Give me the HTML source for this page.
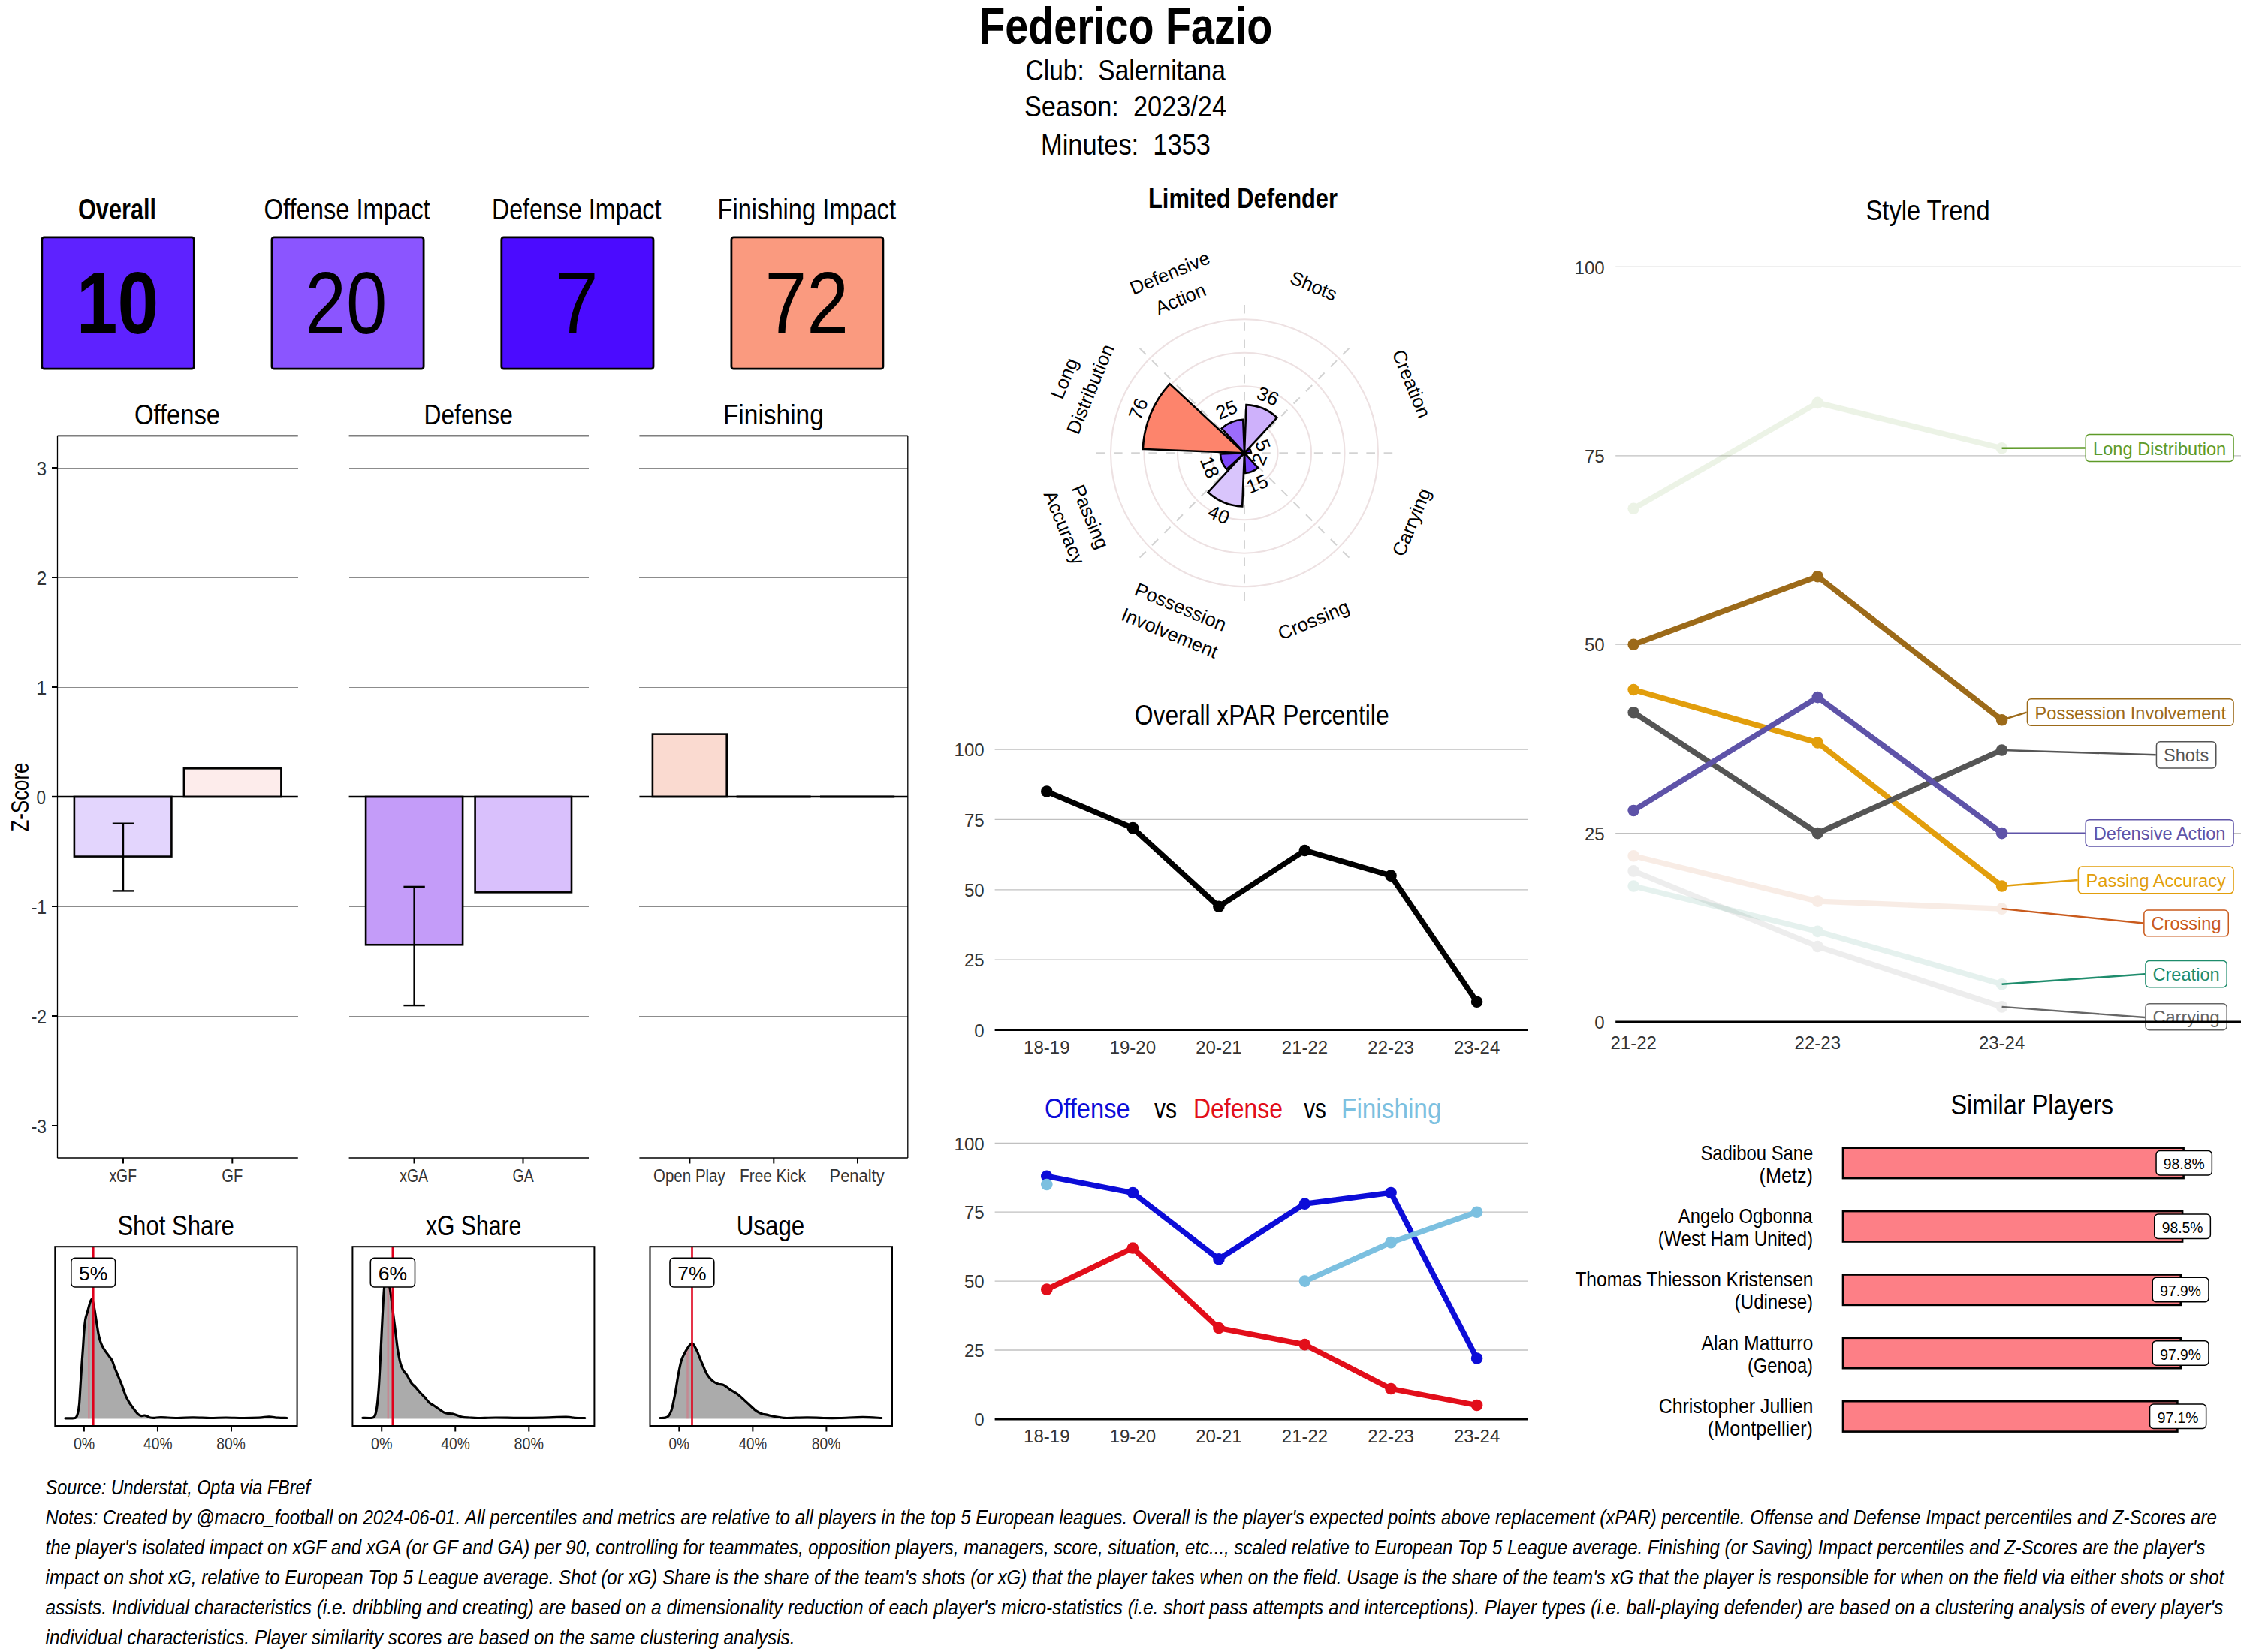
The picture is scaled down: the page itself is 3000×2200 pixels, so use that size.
<!DOCTYPE html>
<html><head><meta charset="utf-8"><title>Federico Fazio</title>
<style>
html,body{margin:0;padding:0;background:#fff;}
svg{display:block;}
text{font-family:"Liberation Sans",sans-serif;white-space:pre;}
</style></head><body>
<svg width="3000" height="2200" viewBox="0 0 3000 2200">
<rect x="0" y="0" width="3000" height="2200" fill="#fff"/>
<text x="1304.34" y="58.20" font-size="68.90" textLength="389.92" lengthAdjust="spacingAndGlyphs" fill="#000" style="font-weight:bold;" >Federico Fazio</text>
<text x="1365.59" y="107.20" font-size="39.24" textLength="266.18" lengthAdjust="spacingAndGlyphs" fill="#000" style="" >Club:  Salernitana</text>
<text x="1363.99" y="154.50" font-size="39.24" textLength="269.01" lengthAdjust="spacingAndGlyphs" fill="#000" style="" >Season:  2023/24</text>
<text x="1385.97" y="206.00" font-size="39.24" textLength="226.03" lengthAdjust="spacingAndGlyphs" fill="#000" style="" >Minutes:  1353</text>
<text x="103.97" y="291.60" font-size="38.52" textLength="104.07" lengthAdjust="spacingAndGlyphs" fill="#000" style="font-weight:bold;" >Overall</text>
<text x="351.59" y="291.80" font-size="38.52" textLength="221.00" lengthAdjust="spacingAndGlyphs" fill="#000" style="" >Offense Impact</text>
<text x="654.98" y="291.80" font-size="38.52" textLength="225.43" lengthAdjust="spacingAndGlyphs" fill="#000" style="" >Defense Impact</text>
<text x="955.58" y="291.80" font-size="38.52" textLength="237.41" lengthAdjust="spacingAndGlyphs" fill="#000" style="" >Finishing Impact</text>
<rect x="55.80" y="315.90" width="202.50" height="175.30" rx="3.00" fill="#5E22FF" stroke="#000" stroke-width="2.80" />
<text x="101.65" y="443.60" font-size="116.28" textLength="109.48" lengthAdjust="spacingAndGlyphs" fill="#000" style="font-weight:bold;" >10</text>
<rect x="362.00" y="315.90" width="202.10" height="175.30" rx="3.00" fill="#8B55FF" stroke="#000" stroke-width="2.80" />
<text x="406.62" y="443.60" font-size="116.28" textLength="108.73" lengthAdjust="spacingAndGlyphs" fill="#000" style="" >20</text>
<rect x="667.80" y="315.90" width="202.20" height="175.30" rx="3.00" fill="#4B0BFF" stroke="#000" stroke-width="2.80" />
<text x="739.83" y="443.60" font-size="116.28" textLength="56.92" lengthAdjust="spacingAndGlyphs" fill="#000" style="" >7</text>
<rect x="973.90" y="315.90" width="202.00" height="175.30" rx="3.00" fill="#FA9A7F" stroke="#000" stroke-width="2.80" />
<text x="1018.50" y="443.60" font-size="116.28" textLength="111.57" lengthAdjust="spacingAndGlyphs" fill="#000" style="" >72</text>
<line x1="76.50" y1="623.00" x2="396.80" y2="623.00" stroke="#8C8C8C" stroke-width="1.00" shape-rendering="crispEdges"/>
<line x1="76.50" y1="769.00" x2="396.80" y2="769.00" stroke="#8C8C8C" stroke-width="1.00" shape-rendering="crispEdges"/>
<line x1="76.50" y1="915.00" x2="396.80" y2="915.00" stroke="#8C8C8C" stroke-width="1.00" shape-rendering="crispEdges"/>
<line x1="76.50" y1="1207.00" x2="396.80" y2="1207.00" stroke="#8C8C8C" stroke-width="1.00" shape-rendering="crispEdges"/>
<line x1="76.50" y1="1353.00" x2="396.80" y2="1353.00" stroke="#8C8C8C" stroke-width="1.00" shape-rendering="crispEdges"/>
<line x1="76.50" y1="1499.00" x2="396.80" y2="1499.00" stroke="#8C8C8C" stroke-width="1.00" shape-rendering="crispEdges"/>
<line x1="76.50" y1="580.40" x2="396.80" y2="580.40" stroke="#000" stroke-width="1.60" />
<line x1="76.50" y1="1542.00" x2="396.80" y2="1542.00" stroke="#000" stroke-width="1.60" />
<line x1="464.60" y1="623.00" x2="784.00" y2="623.00" stroke="#8C8C8C" stroke-width="1.00" shape-rendering="crispEdges"/>
<line x1="464.60" y1="769.00" x2="784.00" y2="769.00" stroke="#8C8C8C" stroke-width="1.00" shape-rendering="crispEdges"/>
<line x1="464.60" y1="915.00" x2="784.00" y2="915.00" stroke="#8C8C8C" stroke-width="1.00" shape-rendering="crispEdges"/>
<line x1="464.60" y1="1207.00" x2="784.00" y2="1207.00" stroke="#8C8C8C" stroke-width="1.00" shape-rendering="crispEdges"/>
<line x1="464.60" y1="1353.00" x2="784.00" y2="1353.00" stroke="#8C8C8C" stroke-width="1.00" shape-rendering="crispEdges"/>
<line x1="464.60" y1="1499.00" x2="784.00" y2="1499.00" stroke="#8C8C8C" stroke-width="1.00" shape-rendering="crispEdges"/>
<line x1="464.60" y1="580.40" x2="784.00" y2="580.40" stroke="#000" stroke-width="1.60" />
<line x1="464.60" y1="1542.00" x2="784.00" y2="1542.00" stroke="#000" stroke-width="1.60" />
<line x1="851.40" y1="623.00" x2="1208.80" y2="623.00" stroke="#8C8C8C" stroke-width="1.00" shape-rendering="crispEdges"/>
<line x1="851.40" y1="769.00" x2="1208.80" y2="769.00" stroke="#8C8C8C" stroke-width="1.00" shape-rendering="crispEdges"/>
<line x1="851.40" y1="915.00" x2="1208.80" y2="915.00" stroke="#8C8C8C" stroke-width="1.00" shape-rendering="crispEdges"/>
<line x1="851.40" y1="1207.00" x2="1208.80" y2="1207.00" stroke="#8C8C8C" stroke-width="1.00" shape-rendering="crispEdges"/>
<line x1="851.40" y1="1353.00" x2="1208.80" y2="1353.00" stroke="#8C8C8C" stroke-width="1.00" shape-rendering="crispEdges"/>
<line x1="851.40" y1="1499.00" x2="1208.80" y2="1499.00" stroke="#8C8C8C" stroke-width="1.00" shape-rendering="crispEdges"/>
<line x1="851.40" y1="580.40" x2="1208.80" y2="580.40" stroke="#000" stroke-width="1.60" />
<line x1="851.40" y1="1542.00" x2="1208.80" y2="1542.00" stroke="#000" stroke-width="1.60" />
<line x1="76.50" y1="580.40" x2="76.50" y2="1542.00" stroke="#000" stroke-width="1.30" />
<line x1="1208.80" y1="580.40" x2="1208.80" y2="1542.00" stroke="#000" stroke-width="1.30" />
<line x1="69.00" y1="623.00" x2="76.50" y2="623.00" stroke="#000" stroke-width="2.00" />
<text x="48.47" y="633.00" font-size="24.85" textLength="13.65" lengthAdjust="spacingAndGlyphs" fill="#333333" style="" >3</text>
<line x1="69.00" y1="769.00" x2="76.50" y2="769.00" stroke="#000" stroke-width="2.00" />
<text x="48.43" y="779.00" font-size="24.85" textLength="13.76" lengthAdjust="spacingAndGlyphs" fill="#333333" style="" >2</text>
<line x1="69.00" y1="915.00" x2="76.50" y2="915.00" stroke="#000" stroke-width="2.00" />
<text x="48.20" y="925.00" font-size="24.85" textLength="14.01" lengthAdjust="spacingAndGlyphs" fill="#333333" style="" >1</text>
<line x1="69.00" y1="1061.00" x2="76.50" y2="1061.00" stroke="#000" stroke-width="2.00" />
<text x="48.55" y="1071.00" font-size="24.85" textLength="12.51" lengthAdjust="spacingAndGlyphs" fill="#333333" style="" >0</text>
<line x1="69.00" y1="1207.00" x2="76.50" y2="1207.00" stroke="#000" stroke-width="2.00" />
<text x="41.69" y="1217.00" font-size="24.85" textLength="20.42" lengthAdjust="spacingAndGlyphs" fill="#333333" style="" >-1</text>
<line x1="69.00" y1="1353.00" x2="76.50" y2="1353.00" stroke="#000" stroke-width="2.00" />
<text x="41.69" y="1363.00" font-size="24.85" textLength="20.42" lengthAdjust="spacingAndGlyphs" fill="#333333" style="" >-2</text>
<line x1="69.00" y1="1499.00" x2="76.50" y2="1499.00" stroke="#000" stroke-width="2.00" />
<text x="41.71" y="1509.00" font-size="24.85" textLength="20.35" lengthAdjust="spacingAndGlyphs" fill="#333333" style="" >-3</text>
<rect x="98.90" y="1061.00" width="129.50" height="79.58" rx="0.00" fill="#E3D5FD" stroke="#000" stroke-width="2.60" />
<rect x="244.90" y="1023.32" width="129.50" height="37.68" rx="0.00" fill="#FDECEB" stroke="#000" stroke-width="2.60" />
<rect x="487.10" y="1061.00" width="129.00" height="197.26" rx="0.00" fill="#C49CF9" stroke="#000" stroke-width="2.60" />
<rect x="632.60" y="1061.00" width="128.40" height="127.33" rx="0.00" fill="#D9C0FC" stroke="#000" stroke-width="2.60" />
<rect x="868.90" y="977.62" width="98.80" height="83.38" rx="0.00" fill="#FADAD0" stroke="#000" stroke-width="2.60" />
<line x1="76.50" y1="1061.00" x2="396.80" y2="1061.00" stroke="#000" stroke-width="2.40" />
<line x1="464.60" y1="1061.00" x2="784.00" y2="1061.00" stroke="#000" stroke-width="2.40" />
<line x1="851.40" y1="1061.00" x2="1208.80" y2="1061.00" stroke="#000" stroke-width="2.40" />
<line x1="69.00" y1="1061.00" x2="76.50" y2="1061.00" stroke="#000" stroke-width="2.40" />
<line x1="980.60" y1="1061.00" x2="1079.60" y2="1061.00" stroke="#000" stroke-width="3.20" />
<line x1="1092.00" y1="1061.00" x2="1191.20" y2="1061.00" stroke="#000" stroke-width="3.20" />
<line x1="164.00" y1="1096.70" x2="164.00" y2="1186.40" stroke="#000" stroke-width="2.40" />
<line x1="149.80" y1="1096.70" x2="178.20" y2="1096.70" stroke="#000" stroke-width="2.40" />
<line x1="149.80" y1="1186.40" x2="178.20" y2="1186.40" stroke="#000" stroke-width="2.40" />
<line x1="551.60" y1="1180.90" x2="551.60" y2="1339.10" stroke="#000" stroke-width="2.40" />
<line x1="537.40" y1="1180.90" x2="565.80" y2="1180.90" stroke="#000" stroke-width="2.40" />
<line x1="537.40" y1="1339.10" x2="565.80" y2="1339.10" stroke="#000" stroke-width="2.40" />
<line x1="164.00" y1="1542.00" x2="164.00" y2="1549.50" stroke="#000" stroke-width="2.00" />
<text x="145.40" y="1574.20" font-size="23.26" textLength="36.60" lengthAdjust="spacingAndGlyphs" fill="#333333" style="" >xGF</text>
<line x1="309.30" y1="1542.00" x2="309.30" y2="1549.50" stroke="#000" stroke-width="2.00" />
<text x="295.19" y="1574.20" font-size="23.26" textLength="28.03" lengthAdjust="spacingAndGlyphs" fill="#333333" style="" >GF</text>
<line x1="551.50" y1="1542.00" x2="551.50" y2="1549.50" stroke="#000" stroke-width="2.00" />
<text x="532.20" y="1574.20" font-size="23.26" textLength="37.81" lengthAdjust="spacingAndGlyphs" fill="#333333" style="" >xGA</text>
<line x1="696.50" y1="1542.00" x2="696.50" y2="1549.50" stroke="#000" stroke-width="2.00" />
<text x="682.57" y="1574.20" font-size="23.26" textLength="28.04" lengthAdjust="spacingAndGlyphs" fill="#333333" style="" >GA</text>
<line x1="918.40" y1="1542.00" x2="918.40" y2="1549.50" stroke="#000" stroke-width="2.00" />
<text x="869.99" y="1574.20" font-size="23.26" textLength="95.82" lengthAdjust="spacingAndGlyphs" fill="#333333" style="" >Open Play</text>
<line x1="1030.30" y1="1542.00" x2="1030.30" y2="1549.50" stroke="#000" stroke-width="2.00" />
<text x="984.99" y="1574.20" font-size="23.26" textLength="87.98" lengthAdjust="spacingAndGlyphs" fill="#333333" style="" >Free Kick</text>
<line x1="1142.00" y1="1542.00" x2="1142.00" y2="1549.50" stroke="#000" stroke-width="2.00" />
<text x="1104.55" y="1574.20" font-size="23.26" textLength="73.05" lengthAdjust="spacingAndGlyphs" fill="#333333" style="" >Penalty</text>
<text x="178.99" y="564.60" font-size="36.77" textLength="114.04" lengthAdjust="spacingAndGlyphs" fill="#000" style="" >Offense</text>
<text x="564.54" y="564.60" font-size="36.77" textLength="118.28" lengthAdjust="spacingAndGlyphs" fill="#000" style="" >Defense</text>
<text x="962.90" y="564.60" font-size="36.77" textLength="133.96" lengthAdjust="spacingAndGlyphs" fill="#000" style="" >Finishing</text>
<g transform="translate(37.5,1061.5) rotate(-90)">
<text x="-46.00" y="0.00" font-size="32.70" textLength="92.00" lengthAdjust="spacingAndGlyphs" fill="#000" style="" >Z-Score</text>
</g>
<text x="156.38" y="1644.50" font-size="36.34" textLength="155.45" lengthAdjust="spacingAndGlyphs" fill="#000" style="" >Shot Share</text>
<clipPath id="clip5"><path d="M87.00,1888.80 C88.63,1888.80 94.45,1888.97 96.80,1888.80 C99.15,1888.63 99.98,1888.88 101.10,1887.80 C102.22,1886.72 102.77,1885.22 103.50,1882.30 C104.23,1879.38 104.90,1876.47 105.50,1870.30 C106.10,1864.13 106.55,1854.02 107.10,1845.30 C107.65,1836.58 108.25,1826.17 108.80,1818.00 C109.35,1809.83 109.87,1803.92 110.40,1796.30 C110.93,1788.68 111.45,1778.85 112.00,1772.30 C112.55,1765.75 112.97,1761.18 113.70,1757.00 C114.43,1752.82 115.40,1750.82 116.40,1747.20 C117.40,1743.58 118.85,1738.00 119.70,1735.30 C120.55,1732.60 120.97,1731.68 121.50,1731.00 C122.03,1730.32 122.30,1729.77 122.90,1731.20 C123.50,1732.63 124.37,1736.02 125.10,1739.60 C125.83,1743.18 126.57,1748.17 127.30,1752.70 C128.03,1757.23 128.78,1762.45 129.50,1766.80 C130.22,1771.15 130.78,1775.17 131.60,1778.80 C132.42,1782.43 133.30,1785.68 134.40,1788.60 C135.50,1791.52 136.67,1793.75 138.20,1796.30 C139.73,1798.85 141.78,1801.37 143.60,1803.90 C145.42,1806.43 147.65,1808.78 149.10,1811.50 C150.55,1814.22 151.03,1816.93 152.30,1820.20 C153.57,1823.47 155.07,1827.10 156.70,1831.10 C158.33,1835.10 160.28,1839.48 162.10,1844.20 C163.92,1848.92 165.78,1855.23 167.60,1859.40 C169.42,1863.57 171.18,1866.28 173.00,1869.20 C174.82,1872.12 176.68,1874.53 178.50,1876.90 C180.32,1879.27 182.27,1881.95 183.90,1883.40 C185.53,1884.85 186.85,1885.33 188.30,1885.60 C189.75,1885.87 191.33,1884.92 192.60,1885.00 C193.87,1885.08 194.62,1885.60 195.90,1886.10 C197.18,1886.60 198.67,1887.63 200.30,1888.00 C201.93,1888.37 203.37,1888.37 205.70,1888.30 C208.03,1888.23 209.23,1887.57 214.30,1887.60 C219.37,1887.63 228.83,1888.45 236.10,1888.50 C243.37,1888.55 250.65,1887.90 257.90,1887.90 C265.15,1887.90 272.42,1888.48 279.60,1888.50 C286.78,1888.52 293.77,1888.00 301.00,1888.00 C308.23,1888.00 315.67,1888.48 323.00,1888.50 C330.33,1888.52 339.15,1888.37 345.00,1888.10 C350.85,1887.83 353.93,1886.88 358.10,1886.90 C362.27,1886.92 366.02,1887.93 370.00,1888.20 C373.98,1888.47 380.00,1888.45 382.00,1888.50 L382.00,1889.60 L87.00,1889.60 Z"/></clipPath>
<path d="M87.00,1888.80 C88.63,1888.80 94.45,1888.97 96.80,1888.80 C99.15,1888.63 99.98,1888.88 101.10,1887.80 C102.22,1886.72 102.77,1885.22 103.50,1882.30 C104.23,1879.38 104.90,1876.47 105.50,1870.30 C106.10,1864.13 106.55,1854.02 107.10,1845.30 C107.65,1836.58 108.25,1826.17 108.80,1818.00 C109.35,1809.83 109.87,1803.92 110.40,1796.30 C110.93,1788.68 111.45,1778.85 112.00,1772.30 C112.55,1765.75 112.97,1761.18 113.70,1757.00 C114.43,1752.82 115.40,1750.82 116.40,1747.20 C117.40,1743.58 118.85,1738.00 119.70,1735.30 C120.55,1732.60 120.97,1731.68 121.50,1731.00 C122.03,1730.32 122.30,1729.77 122.90,1731.20 C123.50,1732.63 124.37,1736.02 125.10,1739.60 C125.83,1743.18 126.57,1748.17 127.30,1752.70 C128.03,1757.23 128.78,1762.45 129.50,1766.80 C130.22,1771.15 130.78,1775.17 131.60,1778.80 C132.42,1782.43 133.30,1785.68 134.40,1788.60 C135.50,1791.52 136.67,1793.75 138.20,1796.30 C139.73,1798.85 141.78,1801.37 143.60,1803.90 C145.42,1806.43 147.65,1808.78 149.10,1811.50 C150.55,1814.22 151.03,1816.93 152.30,1820.20 C153.57,1823.47 155.07,1827.10 156.70,1831.10 C158.33,1835.10 160.28,1839.48 162.10,1844.20 C163.92,1848.92 165.78,1855.23 167.60,1859.40 C169.42,1863.57 171.18,1866.28 173.00,1869.20 C174.82,1872.12 176.68,1874.53 178.50,1876.90 C180.32,1879.27 182.27,1881.95 183.90,1883.40 C185.53,1884.85 186.85,1885.33 188.30,1885.60 C189.75,1885.87 191.33,1884.92 192.60,1885.00 C193.87,1885.08 194.62,1885.60 195.90,1886.10 C197.18,1886.60 198.67,1887.63 200.30,1888.00 C201.93,1888.37 203.37,1888.37 205.70,1888.30 C208.03,1888.23 209.23,1887.57 214.30,1887.60 C219.37,1887.63 228.83,1888.45 236.10,1888.50 C243.37,1888.55 250.65,1887.90 257.90,1887.90 C265.15,1887.90 272.42,1888.48 279.60,1888.50 C286.78,1888.52 293.77,1888.00 301.00,1888.00 C308.23,1888.00 315.67,1888.48 323.00,1888.50 C330.33,1888.52 339.15,1888.37 345.00,1888.10 C350.85,1887.83 353.93,1886.88 358.10,1886.90 C362.27,1886.92 366.02,1887.93 370.00,1888.20 C373.98,1888.47 380.00,1888.45 382.00,1888.50 L382.00,1889.60 L87.00,1889.60 Z" fill="#ABABAB" stroke="none"/>
<line x1="118.30" y1="1661.00" x2="118.30" y2="1898.00" stroke="rgba(255,60,90,0.30)" stroke-width="2.50" clip-path="url(#clip5)"/>
<path d="M87.00,1888.80 C88.63,1888.80 94.45,1888.97 96.80,1888.80 C99.15,1888.63 99.98,1888.88 101.10,1887.80 C102.22,1886.72 102.77,1885.22 103.50,1882.30 C104.23,1879.38 104.90,1876.47 105.50,1870.30 C106.10,1864.13 106.55,1854.02 107.10,1845.30 C107.65,1836.58 108.25,1826.17 108.80,1818.00 C109.35,1809.83 109.87,1803.92 110.40,1796.30 C110.93,1788.68 111.45,1778.85 112.00,1772.30 C112.55,1765.75 112.97,1761.18 113.70,1757.00 C114.43,1752.82 115.40,1750.82 116.40,1747.20 C117.40,1743.58 118.85,1738.00 119.70,1735.30 C120.55,1732.60 120.97,1731.68 121.50,1731.00 C122.03,1730.32 122.30,1729.77 122.90,1731.20 C123.50,1732.63 124.37,1736.02 125.10,1739.60 C125.83,1743.18 126.57,1748.17 127.30,1752.70 C128.03,1757.23 128.78,1762.45 129.50,1766.80 C130.22,1771.15 130.78,1775.17 131.60,1778.80 C132.42,1782.43 133.30,1785.68 134.40,1788.60 C135.50,1791.52 136.67,1793.75 138.20,1796.30 C139.73,1798.85 141.78,1801.37 143.60,1803.90 C145.42,1806.43 147.65,1808.78 149.10,1811.50 C150.55,1814.22 151.03,1816.93 152.30,1820.20 C153.57,1823.47 155.07,1827.10 156.70,1831.10 C158.33,1835.10 160.28,1839.48 162.10,1844.20 C163.92,1848.92 165.78,1855.23 167.60,1859.40 C169.42,1863.57 171.18,1866.28 173.00,1869.20 C174.82,1872.12 176.68,1874.53 178.50,1876.90 C180.32,1879.27 182.27,1881.95 183.90,1883.40 C185.53,1884.85 186.85,1885.33 188.30,1885.60 C189.75,1885.87 191.33,1884.92 192.60,1885.00 C193.87,1885.08 194.62,1885.60 195.90,1886.10 C197.18,1886.60 198.67,1887.63 200.30,1888.00 C201.93,1888.37 203.37,1888.37 205.70,1888.30 C208.03,1888.23 209.23,1887.57 214.30,1887.60 C219.37,1887.63 228.83,1888.45 236.10,1888.50 C243.37,1888.55 250.65,1887.90 257.90,1887.90 C265.15,1887.90 272.42,1888.48 279.60,1888.50 C286.78,1888.52 293.77,1888.00 301.00,1888.00 C308.23,1888.00 315.67,1888.48 323.00,1888.50 C330.33,1888.52 339.15,1888.37 345.00,1888.10 C350.85,1887.83 353.93,1886.88 358.10,1886.90 C362.27,1886.92 366.02,1887.93 370.00,1888.20 C373.98,1888.47 380.00,1888.45 382.00,1888.50" fill="none" stroke="#000" stroke-width="3.2" stroke-linejoin="round" stroke-linecap="round"/>
<line x1="124.30" y1="1660.50" x2="124.30" y2="1898.50" stroke="#E0001B" stroke-width="2.60" />
<rect x="73.30" y="1660.20" width="322.30" height="238.80" rx="0.00" fill="none" stroke="#000" stroke-width="2.00" />
<rect x="94.80" y="1675.30" width="58.80" height="38.70" rx="5.00" fill="#fff" stroke="#000" stroke-width="1.60" />
<text x="124.20" y="1704.80" font-size="26.50" text-anchor="middle" fill="#000" style="" >5%</text>
<line x1="111.90" y1="1899.00" x2="111.90" y2="1906.50" stroke="#000" stroke-width="2.00" />
<text x="97.88" y="1930.30" font-size="22.53" textLength="28.46" lengthAdjust="spacingAndGlyphs" fill="#333333" style="" >0%</text>
<line x1="209.95" y1="1899.00" x2="209.95" y2="1906.50" stroke="#000" stroke-width="2.00" />
<text x="191.06" y="1930.30" font-size="22.53" textLength="38.50" lengthAdjust="spacingAndGlyphs" fill="#333333" style="" >40%</text>
<line x1="308.00" y1="1899.00" x2="308.00" y2="1906.50" stroke="#000" stroke-width="2.00" />
<text x="288.27" y="1930.30" font-size="22.53" textLength="38.50" lengthAdjust="spacingAndGlyphs" fill="#333333" style="" >80%</text>
<text x="566.99" y="1644.50" font-size="36.34" textLength="127.22" lengthAdjust="spacingAndGlyphs" fill="#000" style="" >xG Share</text>
<clipPath id="clip6"><path d="M482.90,1888.30 C485.02,1888.30 492.88,1888.80 495.60,1888.30 C498.32,1887.80 498.20,1887.42 499.20,1885.30 C500.20,1883.18 500.78,1881.25 501.60,1875.60 C502.42,1869.95 503.38,1860.48 504.10,1851.40 C504.82,1842.32 505.30,1832.20 505.90,1821.10 C506.50,1810.00 507.10,1796.92 507.70,1784.80 C508.30,1772.68 508.90,1759.50 509.50,1748.40 C510.10,1737.30 510.72,1725.60 511.30,1718.20 C511.88,1710.80 512.42,1706.95 513.00,1704.00 C513.58,1701.05 514.22,1700.75 514.80,1700.50 C515.38,1700.25 515.97,1701.03 516.50,1702.50 C517.03,1703.97 517.35,1705.68 518.00,1709.30 C518.65,1712.92 519.50,1717.68 520.40,1724.20 C521.30,1730.72 522.38,1740.32 523.40,1748.40 C524.42,1756.48 525.48,1764.62 526.50,1772.70 C527.52,1780.78 528.40,1789.83 529.50,1796.90 C530.60,1803.97 531.88,1810.47 533.10,1815.10 C534.32,1819.73 535.38,1822.08 536.80,1824.70 C538.22,1827.32 539.78,1827.97 541.60,1830.80 C543.42,1833.63 545.68,1838.87 547.70,1841.70 C549.72,1844.53 551.68,1845.58 553.70,1847.80 C555.72,1850.02 557.78,1852.78 559.80,1855.00 C561.82,1857.22 563.78,1858.88 565.80,1861.10 C567.82,1863.32 569.88,1866.48 571.90,1868.30 C573.92,1870.12 575.88,1870.68 577.90,1872.00 C579.92,1873.32 581.77,1874.68 584.00,1876.20 C586.23,1877.72 589.28,1880.08 591.30,1881.10 C593.32,1882.12 594.28,1882.00 596.10,1882.30 C597.92,1882.60 600.18,1882.50 602.20,1882.90 C604.22,1883.30 606.07,1884.00 608.20,1884.70 C610.33,1885.40 612.17,1886.55 615.00,1887.10 C617.83,1887.65 621.68,1887.77 625.20,1888.00 C628.72,1888.23 630.30,1888.50 636.10,1888.50 C641.90,1888.50 651.02,1888.02 660.00,1888.00 C668.98,1887.98 680.00,1888.37 690.00,1888.40 C700.00,1888.43 709.38,1888.40 720.00,1888.20 C730.62,1888.00 746.20,1887.18 753.70,1887.20 C761.20,1887.22 760.82,1888.08 765.00,1888.30 C769.18,1888.52 776.50,1888.47 778.80,1888.50 L778.80,1889.60 L482.90,1889.60 Z"/></clipPath>
<path d="M482.90,1888.30 C485.02,1888.30 492.88,1888.80 495.60,1888.30 C498.32,1887.80 498.20,1887.42 499.20,1885.30 C500.20,1883.18 500.78,1881.25 501.60,1875.60 C502.42,1869.95 503.38,1860.48 504.10,1851.40 C504.82,1842.32 505.30,1832.20 505.90,1821.10 C506.50,1810.00 507.10,1796.92 507.70,1784.80 C508.30,1772.68 508.90,1759.50 509.50,1748.40 C510.10,1737.30 510.72,1725.60 511.30,1718.20 C511.88,1710.80 512.42,1706.95 513.00,1704.00 C513.58,1701.05 514.22,1700.75 514.80,1700.50 C515.38,1700.25 515.97,1701.03 516.50,1702.50 C517.03,1703.97 517.35,1705.68 518.00,1709.30 C518.65,1712.92 519.50,1717.68 520.40,1724.20 C521.30,1730.72 522.38,1740.32 523.40,1748.40 C524.42,1756.48 525.48,1764.62 526.50,1772.70 C527.52,1780.78 528.40,1789.83 529.50,1796.90 C530.60,1803.97 531.88,1810.47 533.10,1815.10 C534.32,1819.73 535.38,1822.08 536.80,1824.70 C538.22,1827.32 539.78,1827.97 541.60,1830.80 C543.42,1833.63 545.68,1838.87 547.70,1841.70 C549.72,1844.53 551.68,1845.58 553.70,1847.80 C555.72,1850.02 557.78,1852.78 559.80,1855.00 C561.82,1857.22 563.78,1858.88 565.80,1861.10 C567.82,1863.32 569.88,1866.48 571.90,1868.30 C573.92,1870.12 575.88,1870.68 577.90,1872.00 C579.92,1873.32 581.77,1874.68 584.00,1876.20 C586.23,1877.72 589.28,1880.08 591.30,1881.10 C593.32,1882.12 594.28,1882.00 596.10,1882.30 C597.92,1882.60 600.18,1882.50 602.20,1882.90 C604.22,1883.30 606.07,1884.00 608.20,1884.70 C610.33,1885.40 612.17,1886.55 615.00,1887.10 C617.83,1887.65 621.68,1887.77 625.20,1888.00 C628.72,1888.23 630.30,1888.50 636.10,1888.50 C641.90,1888.50 651.02,1888.02 660.00,1888.00 C668.98,1887.98 680.00,1888.37 690.00,1888.40 C700.00,1888.43 709.38,1888.40 720.00,1888.20 C730.62,1888.00 746.20,1887.18 753.70,1887.20 C761.20,1887.22 760.82,1888.08 765.00,1888.30 C769.18,1888.52 776.50,1888.47 778.80,1888.50 L778.80,1889.60 L482.90,1889.60 Z" fill="#ABABAB" stroke="none"/>
<line x1="516.80" y1="1661.00" x2="516.80" y2="1898.00" stroke="rgba(255,60,90,0.30)" stroke-width="2.50" clip-path="url(#clip6)"/>
<path d="M482.90,1888.30 C485.02,1888.30 492.88,1888.80 495.60,1888.30 C498.32,1887.80 498.20,1887.42 499.20,1885.30 C500.20,1883.18 500.78,1881.25 501.60,1875.60 C502.42,1869.95 503.38,1860.48 504.10,1851.40 C504.82,1842.32 505.30,1832.20 505.90,1821.10 C506.50,1810.00 507.10,1796.92 507.70,1784.80 C508.30,1772.68 508.90,1759.50 509.50,1748.40 C510.10,1737.30 510.72,1725.60 511.30,1718.20 C511.88,1710.80 512.42,1706.95 513.00,1704.00 C513.58,1701.05 514.22,1700.75 514.80,1700.50 C515.38,1700.25 515.97,1701.03 516.50,1702.50 C517.03,1703.97 517.35,1705.68 518.00,1709.30 C518.65,1712.92 519.50,1717.68 520.40,1724.20 C521.30,1730.72 522.38,1740.32 523.40,1748.40 C524.42,1756.48 525.48,1764.62 526.50,1772.70 C527.52,1780.78 528.40,1789.83 529.50,1796.90 C530.60,1803.97 531.88,1810.47 533.10,1815.10 C534.32,1819.73 535.38,1822.08 536.80,1824.70 C538.22,1827.32 539.78,1827.97 541.60,1830.80 C543.42,1833.63 545.68,1838.87 547.70,1841.70 C549.72,1844.53 551.68,1845.58 553.70,1847.80 C555.72,1850.02 557.78,1852.78 559.80,1855.00 C561.82,1857.22 563.78,1858.88 565.80,1861.10 C567.82,1863.32 569.88,1866.48 571.90,1868.30 C573.92,1870.12 575.88,1870.68 577.90,1872.00 C579.92,1873.32 581.77,1874.68 584.00,1876.20 C586.23,1877.72 589.28,1880.08 591.30,1881.10 C593.32,1882.12 594.28,1882.00 596.10,1882.30 C597.92,1882.60 600.18,1882.50 602.20,1882.90 C604.22,1883.30 606.07,1884.00 608.20,1884.70 C610.33,1885.40 612.17,1886.55 615.00,1887.10 C617.83,1887.65 621.68,1887.77 625.20,1888.00 C628.72,1888.23 630.30,1888.50 636.10,1888.50 C641.90,1888.50 651.02,1888.02 660.00,1888.00 C668.98,1887.98 680.00,1888.37 690.00,1888.40 C700.00,1888.43 709.38,1888.40 720.00,1888.20 C730.62,1888.00 746.20,1887.18 753.70,1887.20 C761.20,1887.22 760.82,1888.08 765.00,1888.30 C769.18,1888.52 776.50,1888.47 778.80,1888.50" fill="none" stroke="#000" stroke-width="3.2" stroke-linejoin="round" stroke-linecap="round"/>
<line x1="522.80" y1="1660.50" x2="522.80" y2="1898.50" stroke="#E0001B" stroke-width="2.60" />
<rect x="469.40" y="1660.20" width="322.00" height="238.80" rx="0.00" fill="none" stroke="#000" stroke-width="2.00" />
<rect x="493.30" y="1675.30" width="59.20" height="38.70" rx="5.00" fill="#fff" stroke="#000" stroke-width="1.60" />
<text x="522.90" y="1704.80" font-size="26.50" text-anchor="middle" fill="#000" style="" >6%</text>
<line x1="508.20" y1="1899.00" x2="508.20" y2="1906.50" stroke="#000" stroke-width="2.00" />
<text x="494.08" y="1930.30" font-size="22.53" textLength="28.46" lengthAdjust="spacingAndGlyphs" fill="#333333" style="" >0%</text>
<line x1="606.25" y1="1899.00" x2="606.25" y2="1906.50" stroke="#000" stroke-width="2.00" />
<text x="587.25" y="1930.30" font-size="22.53" textLength="38.50" lengthAdjust="spacingAndGlyphs" fill="#333333" style="" >40%</text>
<line x1="704.30" y1="1899.00" x2="704.30" y2="1906.50" stroke="#000" stroke-width="2.00" />
<text x="684.43" y="1930.30" font-size="22.53" textLength="39.54" lengthAdjust="spacingAndGlyphs" fill="#333333" style="" >80%</text>
<text x="980.71" y="1644.50" font-size="36.34" textLength="90.53" lengthAdjust="spacingAndGlyphs" fill="#000" style="" >Usage</text>
<clipPath id="clip7"><path d="M878.90,1888.50 C880.08,1888.43 884.08,1888.62 886.00,1888.10 C887.92,1887.58 889.07,1887.03 890.40,1885.40 C891.73,1883.77 892.97,1881.27 894.00,1878.30 C895.03,1875.33 895.72,1871.60 896.60,1867.60 C897.48,1863.60 898.40,1859.32 899.30,1854.30 C900.20,1849.28 901.12,1842.67 902.00,1837.50 C902.88,1832.33 903.72,1827.60 904.60,1823.30 C905.48,1819.00 906.27,1814.97 907.30,1811.70 C908.33,1808.43 909.47,1806.37 910.80,1803.70 C912.13,1801.03 913.82,1797.98 915.30,1795.70 C916.78,1793.42 918.52,1791.03 919.70,1790.00 C920.88,1788.97 921.52,1788.98 922.40,1789.50 C923.28,1790.02 923.97,1791.32 925.00,1793.10 C926.03,1794.88 927.42,1797.53 928.60,1800.20 C929.78,1802.87 930.77,1805.85 932.10,1809.10 C933.43,1812.35 935.12,1816.30 936.60,1819.70 C938.08,1823.10 939.38,1826.68 941.00,1829.50 C942.62,1832.32 944.52,1834.68 946.30,1836.60 C948.08,1838.52 949.92,1839.90 951.70,1841.00 C953.48,1842.10 955.23,1842.68 957.00,1843.20 C958.77,1843.72 960.53,1843.43 962.30,1844.10 C964.07,1844.77 965.82,1846.02 967.60,1847.20 C969.38,1848.38 971.22,1850.02 973.00,1851.20 C974.78,1852.38 976.53,1853.18 978.30,1854.30 C980.07,1855.42 981.82,1856.48 983.60,1857.90 C985.38,1859.32 987.22,1861.18 989.00,1862.80 C990.78,1864.42 992.53,1865.98 994.30,1867.60 C996.07,1869.22 997.83,1870.87 999.60,1872.50 C1001.37,1874.13 1003.12,1875.98 1004.90,1877.40 C1006.68,1878.82 1008.52,1880.03 1010.30,1881.00 C1012.08,1881.97 1013.83,1882.68 1015.60,1883.20 C1017.37,1883.72 1018.53,1883.58 1020.90,1884.10 C1023.27,1884.62 1026.83,1885.72 1029.80,1886.30 C1032.77,1886.88 1035.75,1887.23 1038.70,1887.60 C1041.65,1887.97 1041.52,1888.47 1047.50,1888.50 C1053.48,1888.53 1066.45,1887.80 1074.60,1887.80 C1082.75,1887.80 1089.13,1888.38 1096.40,1888.50 C1103.67,1888.62 1109.48,1888.68 1118.20,1888.50 C1126.92,1888.32 1139.43,1887.40 1148.70,1887.40 C1157.97,1887.40 1169.62,1888.32 1173.80,1888.50 L1173.80,1889.60 L878.90,1889.60 Z"/></clipPath>
<path d="M878.90,1888.50 C880.08,1888.43 884.08,1888.62 886.00,1888.10 C887.92,1887.58 889.07,1887.03 890.40,1885.40 C891.73,1883.77 892.97,1881.27 894.00,1878.30 C895.03,1875.33 895.72,1871.60 896.60,1867.60 C897.48,1863.60 898.40,1859.32 899.30,1854.30 C900.20,1849.28 901.12,1842.67 902.00,1837.50 C902.88,1832.33 903.72,1827.60 904.60,1823.30 C905.48,1819.00 906.27,1814.97 907.30,1811.70 C908.33,1808.43 909.47,1806.37 910.80,1803.70 C912.13,1801.03 913.82,1797.98 915.30,1795.70 C916.78,1793.42 918.52,1791.03 919.70,1790.00 C920.88,1788.97 921.52,1788.98 922.40,1789.50 C923.28,1790.02 923.97,1791.32 925.00,1793.10 C926.03,1794.88 927.42,1797.53 928.60,1800.20 C929.78,1802.87 930.77,1805.85 932.10,1809.10 C933.43,1812.35 935.12,1816.30 936.60,1819.70 C938.08,1823.10 939.38,1826.68 941.00,1829.50 C942.62,1832.32 944.52,1834.68 946.30,1836.60 C948.08,1838.52 949.92,1839.90 951.70,1841.00 C953.48,1842.10 955.23,1842.68 957.00,1843.20 C958.77,1843.72 960.53,1843.43 962.30,1844.10 C964.07,1844.77 965.82,1846.02 967.60,1847.20 C969.38,1848.38 971.22,1850.02 973.00,1851.20 C974.78,1852.38 976.53,1853.18 978.30,1854.30 C980.07,1855.42 981.82,1856.48 983.60,1857.90 C985.38,1859.32 987.22,1861.18 989.00,1862.80 C990.78,1864.42 992.53,1865.98 994.30,1867.60 C996.07,1869.22 997.83,1870.87 999.60,1872.50 C1001.37,1874.13 1003.12,1875.98 1004.90,1877.40 C1006.68,1878.82 1008.52,1880.03 1010.30,1881.00 C1012.08,1881.97 1013.83,1882.68 1015.60,1883.20 C1017.37,1883.72 1018.53,1883.58 1020.90,1884.10 C1023.27,1884.62 1026.83,1885.72 1029.80,1886.30 C1032.77,1886.88 1035.75,1887.23 1038.70,1887.60 C1041.65,1887.97 1041.52,1888.47 1047.50,1888.50 C1053.48,1888.53 1066.45,1887.80 1074.60,1887.80 C1082.75,1887.80 1089.13,1888.38 1096.40,1888.50 C1103.67,1888.62 1109.48,1888.68 1118.20,1888.50 C1126.92,1888.32 1139.43,1887.40 1148.70,1887.40 C1157.97,1887.40 1169.62,1888.32 1173.80,1888.50 L1173.80,1889.60 L878.90,1889.60 Z" fill="#ABABAB" stroke="none"/>
<line x1="915.50" y1="1661.00" x2="915.50" y2="1898.00" stroke="rgba(255,60,90,0.30)" stroke-width="2.50" clip-path="url(#clip7)"/>
<path d="M878.90,1888.50 C880.08,1888.43 884.08,1888.62 886.00,1888.10 C887.92,1887.58 889.07,1887.03 890.40,1885.40 C891.73,1883.77 892.97,1881.27 894.00,1878.30 C895.03,1875.33 895.72,1871.60 896.60,1867.60 C897.48,1863.60 898.40,1859.32 899.30,1854.30 C900.20,1849.28 901.12,1842.67 902.00,1837.50 C902.88,1832.33 903.72,1827.60 904.60,1823.30 C905.48,1819.00 906.27,1814.97 907.30,1811.70 C908.33,1808.43 909.47,1806.37 910.80,1803.70 C912.13,1801.03 913.82,1797.98 915.30,1795.70 C916.78,1793.42 918.52,1791.03 919.70,1790.00 C920.88,1788.97 921.52,1788.98 922.40,1789.50 C923.28,1790.02 923.97,1791.32 925.00,1793.10 C926.03,1794.88 927.42,1797.53 928.60,1800.20 C929.78,1802.87 930.77,1805.85 932.10,1809.10 C933.43,1812.35 935.12,1816.30 936.60,1819.70 C938.08,1823.10 939.38,1826.68 941.00,1829.50 C942.62,1832.32 944.52,1834.68 946.30,1836.60 C948.08,1838.52 949.92,1839.90 951.70,1841.00 C953.48,1842.10 955.23,1842.68 957.00,1843.20 C958.77,1843.72 960.53,1843.43 962.30,1844.10 C964.07,1844.77 965.82,1846.02 967.60,1847.20 C969.38,1848.38 971.22,1850.02 973.00,1851.20 C974.78,1852.38 976.53,1853.18 978.30,1854.30 C980.07,1855.42 981.82,1856.48 983.60,1857.90 C985.38,1859.32 987.22,1861.18 989.00,1862.80 C990.78,1864.42 992.53,1865.98 994.30,1867.60 C996.07,1869.22 997.83,1870.87 999.60,1872.50 C1001.37,1874.13 1003.12,1875.98 1004.90,1877.40 C1006.68,1878.82 1008.52,1880.03 1010.30,1881.00 C1012.08,1881.97 1013.83,1882.68 1015.60,1883.20 C1017.37,1883.72 1018.53,1883.58 1020.90,1884.10 C1023.27,1884.62 1026.83,1885.72 1029.80,1886.30 C1032.77,1886.88 1035.75,1887.23 1038.70,1887.60 C1041.65,1887.97 1041.52,1888.47 1047.50,1888.50 C1053.48,1888.53 1066.45,1887.80 1074.60,1887.80 C1082.75,1887.80 1089.13,1888.38 1096.40,1888.50 C1103.67,1888.62 1109.48,1888.68 1118.20,1888.50 C1126.92,1888.32 1139.43,1887.40 1148.70,1887.40 C1157.97,1887.40 1169.62,1888.32 1173.80,1888.50" fill="none" stroke="#000" stroke-width="3.2" stroke-linejoin="round" stroke-linecap="round"/>
<line x1="921.50" y1="1660.50" x2="921.50" y2="1898.50" stroke="#E0001B" stroke-width="2.60" />
<rect x="865.50" y="1660.20" width="322.50" height="238.80" rx="0.00" fill="none" stroke="#000" stroke-width="2.00" />
<rect x="892.00" y="1675.30" width="58.80" height="38.70" rx="5.00" fill="#fff" stroke="#000" stroke-width="1.60" />
<text x="921.40" y="1704.80" font-size="26.50" text-anchor="middle" fill="#000" style="" >7%</text>
<line x1="904.30" y1="1899.00" x2="904.30" y2="1906.50" stroke="#000" stroke-width="2.00" />
<text x="890.50" y="1930.30" font-size="22.53" textLength="27.40" lengthAdjust="spacingAndGlyphs" fill="#333333" style="" >0%</text>
<line x1="1002.35" y1="1899.00" x2="1002.35" y2="1906.50" stroke="#000" stroke-width="2.00" />
<text x="983.64" y="1930.30" font-size="22.53" textLength="37.51" lengthAdjust="spacingAndGlyphs" fill="#333333" style="" >40%</text>
<line x1="1100.40" y1="1899.00" x2="1100.40" y2="1906.50" stroke="#000" stroke-width="2.00" />
<text x="1080.85" y="1930.30" font-size="22.53" textLength="38.52" lengthAdjust="spacingAndGlyphs" fill="#333333" style="" >80%</text>
<text x="1528.99" y="277.00" font-size="36.34" textLength="252.02" lengthAdjust="spacingAndGlyphs" fill="#000" style="font-weight:bold;" >Limited Defender</text>
<circle cx="1657.00" cy="603.20" r="44.50" fill="none" stroke="#EDE1E2" stroke-width="2.10" />
<circle cx="1657.00" cy="603.20" r="89.00" fill="none" stroke="#EDE1E2" stroke-width="2.10" />
<circle cx="1657.00" cy="603.20" r="133.50" fill="none" stroke="#EDE1E2" stroke-width="2.10" />
<circle cx="1657.00" cy="603.20" r="178.00" fill="none" stroke="#EDE1E2" stroke-width="2.10" />
<line x1="1657.00" y1="603.20" x2="1657.00" y2="405.20" stroke="#D3D3D3" stroke-width="2.00" stroke-dasharray="11.6,11.6"/>
<line x1="1657.00" y1="603.20" x2="1797.01" y2="463.19" stroke="#D3D3D3" stroke-width="2.00" stroke-dasharray="11.6,11.6"/>
<line x1="1657.00" y1="603.20" x2="1855.00" y2="603.20" stroke="#D3D3D3" stroke-width="2.00" stroke-dasharray="11.6,11.6"/>
<line x1="1657.00" y1="603.20" x2="1797.01" y2="743.21" stroke="#D3D3D3" stroke-width="2.00" stroke-dasharray="11.6,11.6"/>
<line x1="1657.00" y1="603.20" x2="1657.00" y2="801.20" stroke="#D3D3D3" stroke-width="2.00" stroke-dasharray="11.6,11.6"/>
<line x1="1657.00" y1="603.20" x2="1516.99" y2="743.21" stroke="#D3D3D3" stroke-width="2.00" stroke-dasharray="11.6,11.6"/>
<line x1="1657.00" y1="603.20" x2="1459.00" y2="603.20" stroke="#D3D3D3" stroke-width="2.00" stroke-dasharray="11.6,11.6"/>
<line x1="1657.00" y1="603.20" x2="1516.99" y2="463.19" stroke="#D3D3D3" stroke-width="2.00" stroke-dasharray="11.6,11.6"/>
<path d="M1657.00,603.20 L1659.52,539.17 A64.08,64.08 0 0,1 1700.50,556.14 Z" fill="#CEB1FB" stroke="#000" stroke-width="2.6" stroke-linejoin="miter"/>
<path d="M1657.00,603.20 L1663.54,597.16 A8.90,8.90 0 0,1 1665.89,602.85 Z" fill="#5A22FF" stroke="#000" stroke-width="2.6" stroke-linejoin="miter"/>
<path d="M1657.00,603.20 L1660.56,603.34 A3.56,3.56 0 0,1 1659.61,605.62 Z" fill="#4E12FF" stroke="#000" stroke-width="2.6" stroke-linejoin="miter"/>
<path d="M1657.00,603.20 L1675.12,622.81 A26.70,26.70 0 0,1 1658.05,629.88 Z" fill="#7642FA" stroke="#000" stroke-width="2.6" stroke-linejoin="miter"/>
<path d="M1657.00,603.20 L1654.20,674.35 A71.20,71.20 0 0,1 1608.67,655.48 Z" fill="#D9C5FC" stroke="#000" stroke-width="2.6" stroke-linejoin="miter"/>
<path d="M1657.00,603.20 L1633.47,624.95 A32.04,32.04 0 0,1 1624.98,604.46 Z" fill="#7F48FB" stroke="#000" stroke-width="2.6" stroke-linejoin="miter"/>
<path d="M1657.00,603.20 L1521.82,597.89 A135.28,135.28 0 0,1 1557.66,511.37 Z" fill="#FD846C" stroke="#000" stroke-width="2.6" stroke-linejoin="miter"/>
<path d="M1657.00,603.20 L1626.79,570.52 A44.50,44.50 0 0,1 1655.25,558.73 Z" fill="#9C6CFB" stroke="#000" stroke-width="2.6" stroke-linejoin="miter"/>
<g transform="translate(1749.15,380.73) rotate(22.50)">
<text x="0.00" y="8.70" font-size="25.30" text-anchor="middle" fill="#000" style="" >Shots</text>
</g>
<g transform="translate(1688.33,527.55) rotate(22.50)">
<text x="0.00" y="8.77" font-size="25.50" text-anchor="middle" fill="#000" style="" >36</text>
</g>
<g transform="translate(1879.47,511.05) rotate(67.50)">
<text x="0.00" y="8.70" font-size="25.30" text-anchor="middle" fill="#000" style="" >Creation</text>
</g>
<g transform="translate(1681.67,592.98) rotate(67.50)">
<text x="0.00" y="8.77" font-size="25.50" text-anchor="middle" fill="#000" style="" >5</text>
</g>
<g transform="translate(1879.47,695.35) rotate(-67.50)">
<text x="0.00" y="8.70" font-size="25.30" text-anchor="middle" fill="#000" style="" >Carrying</text>
</g>
<g transform="translate(1676.73,611.37) rotate(-67.50)">
<text x="0.00" y="8.77" font-size="25.50" text-anchor="middle" fill="#000" style="" >2</text>
</g>
<g transform="translate(1749.15,825.67) rotate(-22.50)">
<text x="0.00" y="8.70" font-size="25.30" text-anchor="middle" fill="#000" style="" >Crossing</text>
</g>
<g transform="translate(1674.03,644.31) rotate(-22.50)">
<text x="0.00" y="8.77" font-size="25.50" text-anchor="middle" fill="#000" style="" >15</text>
</g>
<g transform="translate(1564.85,825.67) rotate(22.50)">
<text x="0.00" y="-10.05" font-size="25.30" text-anchor="middle" fill="#000" style="" >Possession</text>
<text x="0.00" y="27.45" font-size="25.30" text-anchor="middle" fill="#000" style="" >Involvement</text>
</g>
<g transform="translate(1622.94,685.43) rotate(22.50)">
<text x="0.00" y="8.77" font-size="25.50" text-anchor="middle" fill="#000" style="" >40</text>
</g>
<g transform="translate(1434.53,695.35) rotate(67.50)">
<text x="0.00" y="-10.05" font-size="25.30" text-anchor="middle" fill="#000" style="" >Passing</text>
<text x="0.00" y="27.45" font-size="25.30" text-anchor="middle" fill="#000" style="" >Accuracy</text>
</g>
<g transform="translate(1610.95,622.27) rotate(67.50)">
<text x="0.00" y="8.77" font-size="25.50" text-anchor="middle" fill="#000" style="" >18</text>
</g>
<g transform="translate(1434.53,511.05) rotate(-67.50)">
<text x="0.00" y="-10.05" font-size="25.30" text-anchor="middle" fill="#000" style="" >Long</text>
<text x="0.00" y="27.45" font-size="25.30" text-anchor="middle" fill="#000" style="" >Distribution</text>
</g>
<g transform="translate(1515.57,544.62) rotate(-67.50)">
<text x="0.00" y="8.77" font-size="25.50" text-anchor="middle" fill="#000" style="" >76</text>
</g>
<g transform="translate(1564.85,380.73) rotate(-22.50)">
<text x="0.00" y="-10.05" font-size="25.30" text-anchor="middle" fill="#000" style="" >Defensive</text>
<text x="0.00" y="27.45" font-size="25.30" text-anchor="middle" fill="#000" style="" >Action</text>
</g>
<g transform="translate(1633.16,545.64) rotate(-22.50)">
<text x="0.00" y="8.77" font-size="25.50" text-anchor="middle" fill="#000" style="" >25</text>
</g>
<text x="1510.79" y="965.00" font-size="36.34" textLength="338.82" lengthAdjust="spacingAndGlyphs" fill="#000" style="" >Overall xPAR Percentile</text>
<line x1="1324.60" y1="1278.20" x2="2034.80" y2="1278.20" stroke="#C0C0C0" stroke-width="1.30" />
<line x1="1324.60" y1="1184.80" x2="2034.80" y2="1184.80" stroke="#C0C0C0" stroke-width="1.30" />
<line x1="1324.60" y1="1091.40" x2="2034.80" y2="1091.40" stroke="#C0C0C0" stroke-width="1.30" />
<line x1="1324.60" y1="998.00" x2="2034.80" y2="998.00" stroke="#C0C0C0" stroke-width="1.30" />
<line x1="1324.60" y1="1371.60" x2="2034.80" y2="1371.60" stroke="#000" stroke-width="3.00" />
<text x="1310.60" y="1380.80" font-size="24.00" text-anchor="end" fill="#333333" style="" >0</text>
<text x="1310.60" y="1287.40" font-size="24.00" text-anchor="end" fill="#333333" style="" >25</text>
<text x="1310.60" y="1194.00" font-size="24.00" text-anchor="end" fill="#333333" style="" >50</text>
<text x="1310.60" y="1100.60" font-size="24.00" text-anchor="end" fill="#333333" style="" >75</text>
<text x="1310.60" y="1007.20" font-size="24.00" text-anchor="end" fill="#333333" style="" >100</text>
<text x="1393.80" y="1402.90" font-size="24.00" text-anchor="middle" fill="#333333" style="" >18-19</text>
<text x="1508.36" y="1402.90" font-size="24.00" text-anchor="middle" fill="#333333" style="" >19-20</text>
<text x="1622.92" y="1402.90" font-size="24.00" text-anchor="middle" fill="#333333" style="" >20-21</text>
<text x="1737.48" y="1402.90" font-size="24.00" text-anchor="middle" fill="#333333" style="" >21-22</text>
<text x="1852.04" y="1402.90" font-size="24.00" text-anchor="middle" fill="#333333" style="" >22-23</text>
<text x="1966.60" y="1402.90" font-size="24.00" text-anchor="middle" fill="#333333" style="" >23-24</text>
<polyline points="1393.80,1054.04 1508.36,1102.61 1622.92,1207.22 1737.48,1132.50 1852.04,1166.12 1966.60,1334.24" fill="none" stroke="#000" stroke-width="7.30" stroke-linejoin="round" stroke-linecap="round" />
<circle cx="1393.80" cy="1054.04" r="7.80" fill="#000" stroke="none" stroke-width="0.00" />
<circle cx="1508.36" cy="1102.61" r="7.80" fill="#000" stroke="none" stroke-width="0.00" />
<circle cx="1622.92" cy="1207.22" r="7.80" fill="#000" stroke="none" stroke-width="0.00" />
<circle cx="1737.48" cy="1132.50" r="7.80" fill="#000" stroke="none" stroke-width="0.00" />
<circle cx="1852.04" cy="1166.12" r="7.80" fill="#000" stroke="none" stroke-width="0.00" />
<circle cx="1966.60" cy="1334.24" r="7.80" fill="#000" stroke="none" stroke-width="0.00" />
<text x="1390.98" y="1488.60" font-size="36.34" textLength="113.63" lengthAdjust="spacingAndGlyphs" fill="#0C0CD8" style="" >Offense</text>
<text x="1537.00" y="1488.60" font-size="36.34" textLength="30.04" lengthAdjust="spacingAndGlyphs" fill="#000" style="" >vs</text>
<text x="1588.95" y="1488.60" font-size="36.34" textLength="119.07" lengthAdjust="spacingAndGlyphs" fill="#E20E1A" style="" >Defense</text>
<text x="1736.18" y="1488.60" font-size="36.34" textLength="29.84" lengthAdjust="spacingAndGlyphs" fill="#000" style="" >vs</text>
<text x="1786.06" y="1488.60" font-size="36.34" textLength="133.41" lengthAdjust="spacingAndGlyphs" fill="#7CC0E0" style="" >Finishing</text>
<line x1="1324.60" y1="1798.00" x2="2034.80" y2="1798.00" stroke="#C0C0C0" stroke-width="1.30" />
<line x1="1324.60" y1="1706.10" x2="2034.80" y2="1706.10" stroke="#C0C0C0" stroke-width="1.30" />
<line x1="1324.60" y1="1614.20" x2="2034.80" y2="1614.20" stroke="#C0C0C0" stroke-width="1.30" />
<line x1="1324.60" y1="1522.30" x2="2034.80" y2="1522.30" stroke="#C0C0C0" stroke-width="1.30" />
<line x1="1324.60" y1="1889.90" x2="2034.80" y2="1889.90" stroke="#000" stroke-width="3.00" />
<text x="1310.60" y="1899.10" font-size="24.00" text-anchor="end" fill="#333333" style="" >0</text>
<text x="1310.60" y="1807.20" font-size="24.00" text-anchor="end" fill="#333333" style="" >25</text>
<text x="1310.60" y="1715.30" font-size="24.00" text-anchor="end" fill="#333333" style="" >50</text>
<text x="1310.60" y="1623.40" font-size="24.00" text-anchor="end" fill="#333333" style="" >75</text>
<text x="1310.60" y="1531.50" font-size="24.00" text-anchor="end" fill="#333333" style="" >100</text>
<text x="1393.80" y="1920.80" font-size="24.00" text-anchor="middle" fill="#333333" style="" >18-19</text>
<text x="1508.36" y="1920.80" font-size="24.00" text-anchor="middle" fill="#333333" style="" >19-20</text>
<text x="1622.92" y="1920.80" font-size="24.00" text-anchor="middle" fill="#333333" style="" >20-21</text>
<text x="1737.48" y="1920.80" font-size="24.00" text-anchor="middle" fill="#333333" style="" >21-22</text>
<text x="1852.04" y="1920.80" font-size="24.00" text-anchor="middle" fill="#333333" style="" >22-23</text>
<text x="1966.60" y="1920.80" font-size="24.00" text-anchor="middle" fill="#333333" style="" >23-24</text>
<polyline points="1393.80,1566.41 1508.36,1588.47 1622.92,1676.69 1737.48,1603.17 1852.04,1588.47 1966.60,1809.03" fill="none" stroke="#0C0CD8" stroke-width="7.30" stroke-linejoin="round" stroke-linecap="round" />
<circle cx="1393.80" cy="1566.41" r="7.80" fill="#0C0CD8" stroke="none" stroke-width="0.00" />
<circle cx="1508.36" cy="1588.47" r="7.80" fill="#0C0CD8" stroke="none" stroke-width="0.00" />
<circle cx="1622.92" cy="1676.69" r="7.80" fill="#0C0CD8" stroke="none" stroke-width="0.00" />
<circle cx="1737.48" cy="1603.17" r="7.80" fill="#0C0CD8" stroke="none" stroke-width="0.00" />
<circle cx="1852.04" cy="1588.47" r="7.80" fill="#0C0CD8" stroke="none" stroke-width="0.00" />
<circle cx="1966.60" cy="1809.03" r="7.80" fill="#0C0CD8" stroke="none" stroke-width="0.00" />
<polyline points="1393.80,1717.13 1508.36,1661.99 1622.92,1768.59 1737.48,1790.65 1852.04,1849.46 1966.60,1871.52" fill="none" stroke="#E20E1A" stroke-width="7.30" stroke-linejoin="round" stroke-linecap="round" />
<circle cx="1393.80" cy="1717.13" r="7.80" fill="#E20E1A" stroke="none" stroke-width="0.00" />
<circle cx="1508.36" cy="1661.99" r="7.80" fill="#E20E1A" stroke="none" stroke-width="0.00" />
<circle cx="1622.92" cy="1768.59" r="7.80" fill="#E20E1A" stroke="none" stroke-width="0.00" />
<circle cx="1737.48" cy="1790.65" r="7.80" fill="#E20E1A" stroke="none" stroke-width="0.00" />
<circle cx="1852.04" cy="1849.46" r="7.80" fill="#E20E1A" stroke="none" stroke-width="0.00" />
<circle cx="1966.60" cy="1871.52" r="7.80" fill="#E20E1A" stroke="none" stroke-width="0.00" />
<polyline points="1737.48,1706.10 1852.04,1654.64 1966.60,1614.20" fill="none" stroke="#7CC0E0" stroke-width="7.30" stroke-linejoin="round" stroke-linecap="round" />
<circle cx="1737.48" cy="1706.10" r="7.80" fill="#7CC0E0" stroke="none" stroke-width="0.00" />
<circle cx="1852.04" cy="1654.64" r="7.80" fill="#7CC0E0" stroke="none" stroke-width="0.00" />
<circle cx="1966.60" cy="1614.20" r="7.80" fill="#7CC0E0" stroke="none" stroke-width="0.00" />
<circle cx="1393.80" cy="1577.44" r="7.80" fill="#7CC0E0" stroke="none" stroke-width="0.00" />
<text x="2484.56" y="293.20" font-size="36.34" textLength="165.08" lengthAdjust="spacingAndGlyphs" fill="#000" style="" >Style Trend</text>
<line x1="2151.20" y1="1109.60" x2="2984.00" y2="1109.60" stroke="#C0C0C0" stroke-width="1.30" />
<line x1="2151.20" y1="858.20" x2="2984.00" y2="858.20" stroke="#C0C0C0" stroke-width="1.30" />
<line x1="2151.20" y1="606.80" x2="2984.00" y2="606.80" stroke="#C0C0C0" stroke-width="1.30" />
<line x1="2151.20" y1="355.40" x2="2984.00" y2="355.40" stroke="#C0C0C0" stroke-width="1.30" />
<text x="2136.60" y="1370.20" font-size="24.00" text-anchor="end" fill="#333333" style="" >0</text>
<text x="2136.60" y="1118.80" font-size="24.00" text-anchor="end" fill="#333333" style="" >25</text>
<text x="2136.60" y="867.40" font-size="24.00" text-anchor="end" fill="#333333" style="" >50</text>
<text x="2136.60" y="616.00" font-size="24.00" text-anchor="end" fill="#333333" style="" >75</text>
<text x="2136.60" y="364.60" font-size="24.00" text-anchor="end" fill="#333333" style="" >100</text>
<text x="2175.20" y="1396.80" font-size="24.00" text-anchor="middle" fill="#333333" style="" >21-22</text>
<text x="2420.30" y="1396.80" font-size="24.00" text-anchor="middle" fill="#333333" style="" >22-23</text>
<text x="2665.60" y="1396.80" font-size="24.00" text-anchor="middle" fill="#333333" style="" >23-24</text>
<g opacity="0.11">
<polyline points="2175.20,677.19 2420.30,536.41 2665.60,596.74" fill="none" stroke="#5E9A28" stroke-width="7.40" stroke-linejoin="round" stroke-linecap="round" />
<circle cx="2175.20" cy="677.19" r="7.80" fill="#5E9A28" stroke="none" stroke-width="0.00" />
<circle cx="2420.30" cy="536.41" r="7.80" fill="#5E9A28" stroke="none" stroke-width="0.00" />
<circle cx="2665.60" cy="596.74" r="7.80" fill="#5E9A28" stroke="none" stroke-width="0.00" />
</g>
<g opacity="0.11">
<polyline points="2175.20,1139.77 2420.30,1200.10 2665.60,1210.16" fill="none" stroke="#C95A1C" stroke-width="7.40" stroke-linejoin="round" stroke-linecap="round" />
<circle cx="2175.20" cy="1139.77" r="7.80" fill="#C95A1C" stroke="none" stroke-width="0.00" />
<circle cx="2420.30" cy="1200.10" r="7.80" fill="#C95A1C" stroke="none" stroke-width="0.00" />
<circle cx="2665.60" cy="1210.16" r="7.80" fill="#C95A1C" stroke="none" stroke-width="0.00" />
</g>
<g opacity="0.11">
<polyline points="2175.20,1159.88 2420.30,1260.44 2665.60,1340.89" fill="none" stroke="#666666" stroke-width="7.40" stroke-linejoin="round" stroke-linecap="round" />
<circle cx="2175.20" cy="1159.88" r="7.80" fill="#666666" stroke="none" stroke-width="0.00" />
<circle cx="2420.30" cy="1260.44" r="7.80" fill="#666666" stroke="none" stroke-width="0.00" />
<circle cx="2665.60" cy="1340.89" r="7.80" fill="#666666" stroke="none" stroke-width="0.00" />
</g>
<g opacity="0.11">
<polyline points="2175.20,1179.99 2420.30,1240.33 2665.60,1310.72" fill="none" stroke="#1E8C6C" stroke-width="7.40" stroke-linejoin="round" stroke-linecap="round" />
<circle cx="2175.20" cy="1179.99" r="7.80" fill="#1E8C6C" stroke="none" stroke-width="0.00" />
<circle cx="2420.30" cy="1240.33" r="7.80" fill="#1E8C6C" stroke="none" stroke-width="0.00" />
<circle cx="2665.60" cy="1310.72" r="7.80" fill="#1E8C6C" stroke="none" stroke-width="0.00" />
</g>
<polyline points="2175.20,858.20 2420.30,767.70 2665.60,958.76" fill="none" stroke="#9C6A19" stroke-width="7.40" stroke-linejoin="round" stroke-linecap="round" />
<circle cx="2175.20" cy="858.20" r="7.80" fill="#9C6A19" stroke="none" stroke-width="0.00" />
<circle cx="2420.30" cy="767.70" r="7.80" fill="#9C6A19" stroke="none" stroke-width="0.00" />
<circle cx="2665.60" cy="958.76" r="7.80" fill="#9C6A19" stroke="none" stroke-width="0.00" />
<polyline points="2175.20,918.54 2420.30,988.93 2665.60,1179.99" fill="none" stroke="#E29E0C" stroke-width="7.40" stroke-linejoin="round" stroke-linecap="round" />
<circle cx="2175.20" cy="918.54" r="7.80" fill="#E29E0C" stroke="none" stroke-width="0.00" />
<circle cx="2420.30" cy="988.93" r="7.80" fill="#E29E0C" stroke="none" stroke-width="0.00" />
<circle cx="2665.60" cy="1179.99" r="7.80" fill="#E29E0C" stroke="none" stroke-width="0.00" />
<polyline points="2175.20,948.70 2420.30,1109.60 2665.60,998.98" fill="none" stroke="#555555" stroke-width="7.40" stroke-linejoin="round" stroke-linecap="round" />
<circle cx="2175.20" cy="948.70" r="7.80" fill="#555555" stroke="none" stroke-width="0.00" />
<circle cx="2420.30" cy="1109.60" r="7.80" fill="#555555" stroke="none" stroke-width="0.00" />
<circle cx="2665.60" cy="998.98" r="7.80" fill="#555555" stroke="none" stroke-width="0.00" />
<polyline points="2175.20,1079.43 2420.30,928.59 2665.60,1109.60" fill="none" stroke="#5E53A8" stroke-width="7.40" stroke-linejoin="round" stroke-linecap="round" />
<circle cx="2175.20" cy="1079.43" r="7.80" fill="#5E53A8" stroke="none" stroke-width="0.00" />
<circle cx="2420.30" cy="928.59" r="7.80" fill="#5E53A8" stroke="none" stroke-width="0.00" />
<circle cx="2665.60" cy="1109.60" r="7.80" fill="#5E53A8" stroke="none" stroke-width="0.00" />
<line x1="2665.60" y1="596.74" x2="2776.50" y2="596.50" stroke="#5E9A28" stroke-width="2.40" />
<rect x="2777.25" y="578.55" width="196.80" height="36.00" rx="5.00" fill="#fff" stroke="#5E9A28" stroke-width="1.50" />
<text x="2875.65" y="605.55" font-size="23.60" text-anchor="middle" fill="#5E9A28" style="" >Long Distribution</text>
<line x1="2665.60" y1="1210.16" x2="2854.10" y2="1229.50" stroke="#C95A1C" stroke-width="2.40" />
<rect x="2854.85" y="1212.05" width="112.40" height="34.80" rx="5.00" fill="#fff" stroke="#C95A1C" stroke-width="1.50" />
<text x="2911.05" y="1238.45" font-size="23.60" text-anchor="middle" fill="#C95A1C" style="" >Crossing</text>
<line x1="2665.60" y1="1340.89" x2="2856.20" y2="1355.00" stroke="#666666" stroke-width="2.40" />
<rect x="2856.95" y="1336.85" width="108.20" height="34.80" rx="5.00" fill="#fff" stroke="#666666" stroke-width="1.50" />
<text x="2911.05" y="1363.25" font-size="23.60" text-anchor="middle" fill="#666666" style="" >Carrying</text>
<line x1="2665.60" y1="1310.72" x2="2856.20" y2="1297.30" stroke="#1E8C6C" stroke-width="2.40" />
<rect x="2856.95" y="1279.55" width="108.20" height="35.10" rx="5.00" fill="#fff" stroke="#1E8C6C" stroke-width="1.50" />
<text x="2911.05" y="1306.10" font-size="23.60" text-anchor="middle" fill="#1E8C6C" style="" >Creation</text>
<line x1="2665.60" y1="958.76" x2="2698.70" y2="948.70" stroke="#9C6A19" stroke-width="2.40" />
<rect x="2699.45" y="930.85" width="274.60" height="35.30" rx="5.00" fill="#fff" stroke="#9C6A19" stroke-width="1.50" />
<text x="2836.75" y="957.50" font-size="23.60" text-anchor="middle" fill="#9C6A19" style="" >Possession Involvement</text>
<line x1="2665.60" y1="1179.99" x2="2766.60" y2="1172.00" stroke="#E29E0C" stroke-width="2.40" />
<rect x="2767.35" y="1154.05" width="206.70" height="35.80" rx="5.00" fill="#fff" stroke="#E29E0C" stroke-width="1.50" />
<text x="2870.70" y="1180.95" font-size="23.60" text-anchor="middle" fill="#E29E0C" style="" >Passing Accuracy</text>
<line x1="2665.60" y1="998.98" x2="2870.70" y2="1005.20" stroke="#555555" stroke-width="2.40" />
<rect x="2871.45" y="987.85" width="79.30" height="35.20" rx="5.00" fill="#fff" stroke="#555555" stroke-width="1.50" />
<text x="2911.10" y="1014.45" font-size="23.60" text-anchor="middle" fill="#555555" style="" >Shots</text>
<line x1="2665.60" y1="1109.60" x2="2776.40" y2="1109.60" stroke="#5E53A8" stroke-width="2.40" />
<rect x="2777.15" y="1091.65" width="196.90" height="35.40" rx="5.00" fill="#fff" stroke="#5E53A8" stroke-width="1.50" />
<text x="2875.60" y="1118.35" font-size="23.60" text-anchor="middle" fill="#5E53A8" style="" >Defensive Action</text>
<line x1="2151.20" y1="1361.00" x2="2984.00" y2="1361.00" stroke="#000" stroke-width="3.00" />
<text x="2597.38" y="1484.30" font-size="36.34" textLength="216.63" lengthAdjust="spacingAndGlyphs" fill="#000" style="" >Similar Players</text>
<rect x="2454.00" y="1528.70" width="453.60" height="40.40" rx="0.00" fill="#FD7F86" stroke="#000" stroke-width="2.60" />
<rect x="2871.05" y="1532.55" width="74.30" height="32.50" rx="5.00" fill="#fff" stroke="#000" stroke-width="1.50" />
<text x="2908.20" y="1557.40" font-size="19.30" text-anchor="middle" fill="#000" style="" >98.8%</text>
<rect x="2454.00" y="1613.10" width="452.10" height="40.40" rx="0.00" fill="#FD7F86" stroke="#000" stroke-width="2.60" />
<rect x="2868.75" y="1616.95" width="74.60" height="32.50" rx="5.00" fill="#fff" stroke="#000" stroke-width="1.50" />
<text x="2906.05" y="1641.80" font-size="19.30" text-anchor="middle" fill="#000" style="" >98.5%</text>
<rect x="2454.00" y="1697.50" width="449.70" height="40.40" rx="0.00" fill="#FD7F86" stroke="#000" stroke-width="2.60" />
<rect x="2866.25" y="1701.35" width="74.70" height="32.50" rx="5.00" fill="#fff" stroke="#000" stroke-width="1.50" />
<text x="2903.60" y="1726.20" font-size="19.30" text-anchor="middle" fill="#000" style="" >97.9%</text>
<rect x="2454.00" y="1781.80" width="449.70" height="40.40" rx="0.00" fill="#FD7F86" stroke="#000" stroke-width="2.60" />
<rect x="2866.25" y="1785.65" width="74.70" height="32.50" rx="5.00" fill="#fff" stroke="#000" stroke-width="1.50" />
<text x="2903.60" y="1810.50" font-size="19.30" text-anchor="middle" fill="#000" style="" >97.9%</text>
<rect x="2454.00" y="1866.20" width="445.40" height="40.40" rx="0.00" fill="#FD7F86" stroke="#000" stroke-width="2.60" />
<rect x="2862.55" y="1870.05" width="75.10" height="32.50" rx="5.00" fill="#fff" stroke="#000" stroke-width="1.50" />
<text x="2900.10" y="1894.90" font-size="19.30" text-anchor="middle" fill="#000" style="" >97.1%</text>
<text x="2264.39" y="1544.60" font-size="27.33" textLength="150.03" lengthAdjust="spacingAndGlyphs" fill="#000" style="" >Sadibou Sane</text>
<text x="2342.56" y="1574.60" font-size="27.33" textLength="71.47" lengthAdjust="spacingAndGlyphs" fill="#000" style="" >(Metz)</text>
<text x="2234.80" y="1628.60" font-size="27.33" textLength="178.59" lengthAdjust="spacingAndGlyphs" fill="#000" style="" >Angelo Ogbonna</text>
<text x="2207.79" y="1658.60" font-size="27.33" textLength="206.23" lengthAdjust="spacingAndGlyphs" fill="#000" style="" >(West Ham United)</text>
<text x="2097.40" y="1712.80" font-size="27.33" textLength="317.01" lengthAdjust="spacingAndGlyphs" fill="#000" style="" >Thomas Thiesson Kristensen</text>
<text x="2309.77" y="1742.80" font-size="27.33" textLength="104.25" lengthAdjust="spacingAndGlyphs" fill="#000" style="" >(Udinese)</text>
<text x="2265.40" y="1797.50" font-size="27.33" textLength="149.02" lengthAdjust="spacingAndGlyphs" fill="#000" style="" >Alan Matturro</text>
<text x="2326.98" y="1827.50" font-size="27.33" textLength="87.06" lengthAdjust="spacingAndGlyphs" fill="#000" style="" >(Genoa)</text>
<text x="2208.79" y="1881.60" font-size="27.33" textLength="205.61" lengthAdjust="spacingAndGlyphs" fill="#000" style="" >Christopher Jullien</text>
<text x="2273.78" y="1911.60" font-size="27.33" textLength="140.24" lengthAdjust="spacingAndGlyphs" fill="#000" style="" >(Montpellier)</text>
<text x="60.60" y="1990.00" font-size="28.34" textLength="352.37" lengthAdjust="spacingAndGlyphs" fill="#000" style="font-style:italic;" >Source: Understat, Opta via FBref</text>
<text x="60.60" y="2030.00" font-size="28.34" textLength="2891.21" lengthAdjust="spacingAndGlyphs" fill="#000" style="font-style:italic;" >Notes: Created by @macro_football on 2024-06-01. All percentiles and metrics are relative to all players in the top 5 European leagues. Overall is the player's expected points above replacement (xPAR) percentile. Offense and Defense Impact percentiles and Z-Scores are</text>
<text x="60.60" y="2070.00" font-size="28.34" textLength="2875.80" lengthAdjust="spacingAndGlyphs" fill="#000" style="font-style:italic;" >the player's isolated impact on xGF and xGA (or GF and GA) per 90, controlling for teammates, opposition players, managers, score, situation, etc..., scaled relative to European Top 5 League average. Finishing (or Saving) Impact percentiles and Z-Scores are the player's</text>
<text x="60.60" y="2110.00" font-size="28.34" textLength="2900.75" lengthAdjust="spacingAndGlyphs" fill="#000" style="font-style:italic;" >impact on shot xG, relative to European Top 5 League average. Shot (or xG) Share is the share of the team's shots (or xG) that the player takes when on the field. Usage is the share of the team's xG that the player is responsible for when on the field via either shots or shot</text>
<text x="60.60" y="2150.00" font-size="28.34" textLength="2899.80" lengthAdjust="spacingAndGlyphs" fill="#000" style="font-style:italic;" >assists. Individual characteristics (i.e. dribbling and creating) are based on a dimensionality reduction of each player's micro-statistics (i.e. short pass attempts and interceptions). Player types (i.e. ball-playing defender) are based on a clustering analysis of every player's</text>
<text x="60.60" y="2189.50" font-size="28.34" textLength="998.00" lengthAdjust="spacingAndGlyphs" fill="#000" style="font-style:italic;" >individual characteristics. Player similarity scores are based on the same clustering analysis.</text>
</svg>
</body></html>
